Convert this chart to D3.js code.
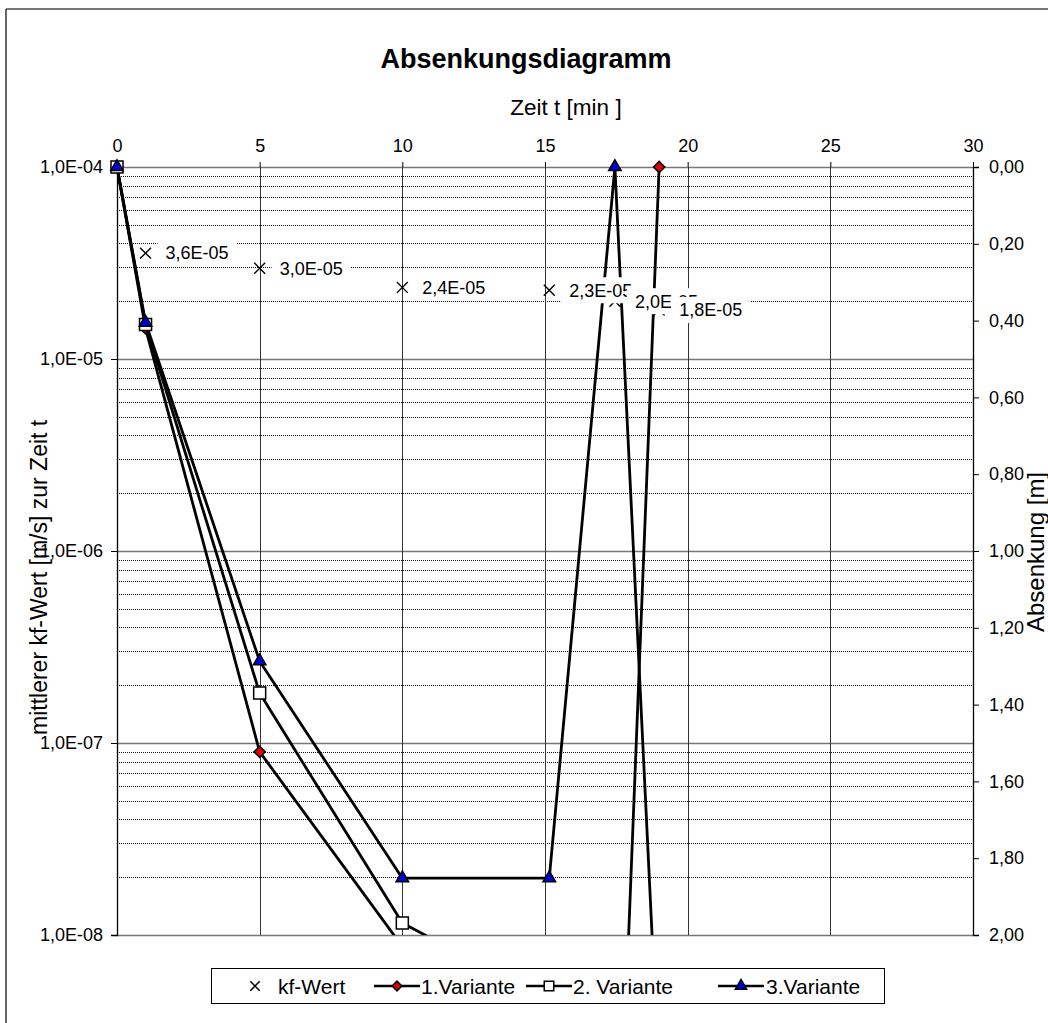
<!DOCTYPE html>
<html><head><meta charset="utf-8">
<script src="https://cdn.jsdelivr.net/npm/d3@7"></script>
<style>body{margin:0;background:#fff}svg{display:block}text{font-family:"Liberation Sans",Arial,sans-serif}</style>
</head><body>
<svg id="c" width="1048" height="1023"></svg>
<script>
// ---- data ----
const title = "Absenkungsdiagramm";
const xTitle = "Zeit t [min ]";
const yLeftTitle = "mittlerer kf-Wert [m/s] zur Zeit t";
const yRightTitle = "Absenkung [m]";
const xTicks = [0, 5, 10, 15, 20, 25, 30];
const yLeftTicks = [1e-4, 1e-5, 1e-6, 1e-7, 1e-8];
const yRightTicks = [0, 0.2, 0.4, 0.6, 0.8, 1.0, 1.2, 1.4, 1.6, 1.8, 2.0];
const kfTime = [1, 5, 10, 15.15, 17.45, 19];
const kfValue = [3.56e-5, 2.97e-5, 2.36e-5, 2.28e-5, 2.0e-5, 1.8e-5];
const v1Time = [0, 1, 5, 10, 15.15, 17.45, 19];
const v1Value = [0, 0.42, 1.523, 2.03, 2.5, 2.9, 0];
const v2Time = [0, 1, 5, 10, 15.15, 17.45, 19];
const v2Value = [0, 0.41, 1.37, 1.969, 2.17, 2.6, 3.0];
const v3Time = [0, 1, 5, 10, 15.15, 17.45, 19];
const v3Value = [0, 0.405, 1.287, 1.852, 1.852, 0, 2.38];
const legendLabels = ["kf-Wert", "1.Variante", "2. Variante", "3.Variante"];

// ---- layout ----
const svg = d3.select("#c");
const L = 117, R = 973, T = 167, B = 935;
const x = d3.scaleLinear([0, 30], [L, R]);
const yL = d3.scaleLog([1e-8, 1e-4], [B, T]);
const yR = d3.scaleLinear([0, 2], [T, B]);

const fmtE = v => {
  const [m, e] = v.toExponential(1).split("e");
  const n = Math.abs(+e);
  return m.replace(".", ",") + "E" + (+e < 0 ? "-" : "+") + String(n).padStart(2, "0");
};
const fmtR = v => v.toFixed(2).replace(".", ",");

// chart border
svg.append("line").attr("x1", 6).attr("x2", 1048).attr("y1", 9).attr("y2", 9).attr("stroke", "#777").attr("stroke-width", 2);
svg.append("line").attr("x1", 6).attr("x2", 6).attr("y1", 9).attr("y2", 1023).attr("stroke", "#333").attr("stroke-width", 1.5);

// minor log gridlines
const minor = [];
for (let d = -8; d < -4; d++) for (let m = 2; m <= 9; m++) minor.push(m * Math.pow(10, d));
svg.append("g").selectAll("line").data(minor).join("line")
  .attr("x1", L).attr("x2", R).attr("y1", d => Math.round(yL(d)) + 0.5).attr("y2", d => Math.round(yL(d)) + 0.5)
  .attr("stroke", "#111").attr("stroke-width", 1).attr("stroke-dasharray", "1,1");
// major gridlines
svg.append("g").selectAll("line").data(yLeftTicks).join("line")
  .attr("x1", L).attr("x2", R).attr("y1", d => Math.round(yL(d)) + 0.5).attr("y2", d => Math.round(yL(d)) + 0.5)
  .attr("stroke", "#777").attr("stroke-width", 1.5);
// vertical gridlines
svg.append("g").selectAll("line").data(xTicks.slice(1, -1)).join("line")
  .attr("x1", d => Math.round(x(d)) + 0.5).attr("x2", d => Math.round(x(d)) + 0.5).attr("y1", T).attr("y2", B)
  .attr("stroke", "#333").attr("stroke-width", 1);

// axes
const axTop = svg.append("g").attr("transform", `translate(0,${T})`)
  .call(d3.axisTop(x).tickValues(xTicks).tickSize(5).tickPadding(10).tickFormat(d3.format("d")));
axTop.select(".domain").remove();
const axL = svg.append("g").attr("transform", `translate(${L},0)`)
  .call(d3.axisLeft(yL).tickValues(yLeftTicks).tickSize(6).tickPadding(8).tickFormat(fmtE));
const axR = svg.append("g").attr("transform", `translate(${R},0)`)
  .call(d3.axisRight(yR).tickValues(yRightTicks).tickSize(6).tickPadding(10).tickFormat(fmtR));
[axTop, axL, axR].forEach(a => {
  a.attr("font-family", null).attr("font-size", null);
  a.selectAll("text").attr("font-size", 18).attr("fill", "#000");
  a.selectAll("line").attr("stroke", "#000");
  a.selectAll(".domain").attr("stroke", "#000").attr("stroke-width", 1.3);
});

// titles
svg.append("text").attr("x", 526).attr("y", 68).attr("text-anchor", "middle")
  .attr("font-size", 27).attr("font-weight", "bold").text(title);
svg.append("text").attr("x", 566).attr("y", 115).attr("text-anchor", "middle")
  .attr("font-size", 22.5).text(xTitle);
svg.append("text").attr("transform", "translate(47,735) rotate(-90)").attr("text-anchor", "start")
  .attr("font-size", 23).text(yLeftTitle);
svg.append("text").attr("transform", "translate(1044,552) rotate(-90)").attr("text-anchor", "middle")
  .attr("font-size", 24).text(yRightTitle);

// clip for lines
svg.append("clipPath").attr("id", "plot").append("rect").attr("x", L - 10).attr("y", T - 15).attr("width", R - L + 20).attr("height", B - T + 15);

const series = [
  {t: v1Time, v: v1Value, sym: d3.symbolDiamond2, size: 80, fill: "#e00000"},
  {t: v2Time, v: v2Value, sym: d3.symbolSquare, size: 144, fill: "#fff"},
  {t: v3Time, v: v3Value, sym: d3.symbolTriangle, size: 68, fill: "#0000dd"}
];
const line = d3.line().x(d => x(d[0])).y(d => yR(d[1]));
series.forEach(s => {
  const pts = s.t.map((t, i) => [t, s.v[i]]);
  svg.append("path").datum(pts).attr("d", line).attr("fill", "none").attr("stroke", "#000")
    .attr("stroke-width", 2.8).attr("stroke-linejoin", "round").attr("clip-path", "url(#plot)");
  s.pts = pts;
});
series.forEach(s => {
  svg.append("g").selectAll("path").data(s.pts.filter(p => p[1] <= 2)).join("path")
    .attr("transform", p => `translate(${x(p[0])},${yR(p[1])})`)
    .attr("d", d3.symbol(s.sym, s.size)).attr("fill", s.fill).attr("stroke", "#000").attr("stroke-width", 1.5);
});

// kf markers
const kf = kfTime.map((t, i) => [t, kfValue[i]]);
const cross = d3.symbol(d3.symbolX, 80);
svg.append("g").selectAll("path").data(kf).join("path")
  .attr("transform", p => `translate(${x(p[0])},${yL(p[1])})`)
  .attr("d", cross).attr("fill", "none").attr("stroke", "#000").attr("stroke-width", 1.4);

// kf labels with white boxes
kf.forEach(p => {
  const px = x(p[0]), py = yL(p[1]);
  const g = svg.append("g");
  const r = g.append("rect").attr("fill", "#fff");
  const tx = g.append("text").attr("x", px + 20).attr("y", py).attr("dy", "0.35em").attr("font-size", 18).text(fmtE(p[1]));
  const w = tx.node().getComputedTextLength();
  r.attr("x", px + 12).attr("y", py - 13).attr("width", w + 16).attr("height", 26);
});

// legend
const lg = svg.append("g");
lg.append("rect").attr("x", 211.5).attr("y", 968.5).attr("width", 673).attr("height", 35)
  .attr("fill", "#fff").attr("stroke", "#000").attr("stroke-width", 1);
const ly = 986;
const items = [
  {cx: 255, sym: d3.symbolX, size: 60, fill: "none", line: false, tx: 278},
  {cx: 397, sym: d3.symbolDiamond2, size: 60, fill: "#e00000", line: true, tx: 421},
  {cx: 549, sym: d3.symbolSquare, size: 90, fill: "#fff", line: true, tx: 573},
  {cx: 741, sym: d3.symbolTriangle, size: 55, fill: "#0000dd", line: true, tx: 766}
];
items.forEach((it, i) => {
  if (it.line) lg.append("line").attr("x1", it.cx - 23).attr("x2", it.cx + 23).attr("y1", ly).attr("y2", ly)
    .attr("stroke", "#000").attr("stroke-width", 2.6);
  lg.append("path").attr("transform", `translate(${it.cx},${ly})`).attr("d", d3.symbol(it.sym, it.size))
    .attr("fill", it.fill).attr("stroke", "#000").attr("stroke-width", 1.5);
  lg.append("text").attr("x", it.tx).attr("y", ly).attr("dy", "0.36em").attr("font-size", 21).text(legendLabels[i]);
});
</script>
</body></html>
